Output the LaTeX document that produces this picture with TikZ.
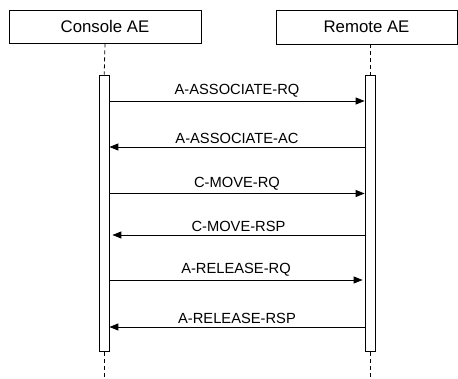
\documentclass[tikz,border=0pt]{standalone}
\usepackage{fontspec}
\setmainfont{Liberation Sans}
\usetikzlibrary{arrows.meta}
\begin{document}
\begin{tikzpicture}[x=1pt,y=-1pt,
  actor/.style={draw,line width=0.9pt,inner sep=0pt,font=\fontsize{16.8}{18}\selectfont},
  actbar/.style={draw,line width=0.9pt,fill=white,inner sep=0pt,minimum width=9.5pt},
  life/.style={dashed,dash pattern=on 4pt off 3pt,line width=0.8pt},
  msg/.style={line width=0.9pt,-{Triangle[length=9pt,width=7pt]}},
  lbl/.style={font=\fontsize{14.7}{16}\selectfont,above=3pt,inner sep=0pt}]
\useasboundingbox (0,0) rectangle (458,379);
\node[actor,minimum width=192pt,minimum height=33pt] (con) at (105,26.5) {Console AE};
\node[actor,minimum width=181pt,minimum height=34pt] (rem) at (366.5,27) {Remote AE};
\node[actbar,minimum height=276.5pt] (cb) at (104.2,213.3) {};
\node[actbar,minimum width=10.5pt,minimum height=276.5pt] (rb) at (370.3,213.3) {};
\coordinate (ce) at (104.2,379);
\coordinate (re) at (370.3,379);
\draw[life] (con.south) -- (cb.north);
\draw[life] (rem.south -| rb.north) -- (rb.north);
\draw[life] (cb.south) -- (ce);
\draw[life] (rb.south) -- (re);
\draw[msg] (cb.east |- 0,101) -- node[lbl]{A-ASSOCIATE-RQ} (rb.west |- 0,101);
\draw[msg] (rb.west |- 0,147) -- node[lbl]{A-ASSOCIATE-AC} (cb.east |- 0,147);
\draw[msg] (cb.east |- 0,193.5) -- node[lbl]{C-MOVE-RQ} (rb.west |- 0,193.5);
\draw[msg] (rb.west |- 0,235) -- node[lbl]{C-MOVE-RSP} ([xshift=3pt]cb.east |- 0,235);
\draw[msg] (cb.east |- 0,280) -- node[lbl]{A-RELEASE-RQ} ([xshift=-2pt]rb.west |- 0,280);
\draw[msg] (rb.west |- 0,327) -- node[lbl]{A-RELEASE-RSP} (cb.east |- 0,327);
\end{tikzpicture}
\end{document}
